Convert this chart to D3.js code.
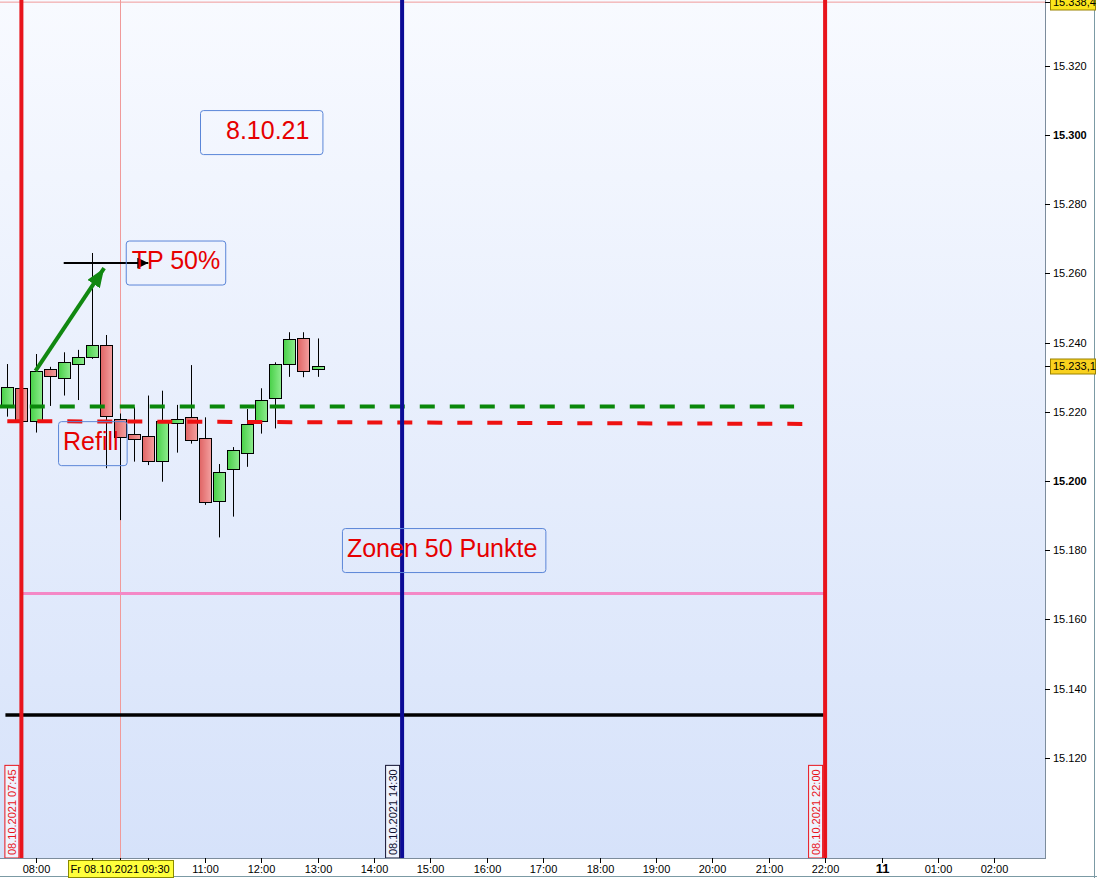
<!DOCTYPE html>
<html lang="de">
<head>
<meta charset="UTF-8">
<title>15 Min Chart 08.10.2021</title>
<style>
  body { margin: 0; background: #fff; }
  svg { display: block; font-family: Arial, "Liberation Sans", sans-serif; }
  .axis-label { font-size: 11px; fill: #000; }
  .note { font-size: 25px; fill: #e60000; }
  .vlabel { font-size: 11px; }
</style>
</head>
<body>
<div id="chart"></div>
<script src="https://cdn.jsdelivr.net/npm/d3@7"></script>
<script>
// 15 minute candles
const candleTimes = ["07:30", "07:45", "08:00", "08:15", "08:30", "08:45", "09:00", "09:15", "09:30", "09:45", "10:00", "10:15",
                     "10:30", "10:45", "11:00", "11:15", "11:30", "11:45", "12:00", "12:15", "12:30", "12:45", "13:00"];
const openVals  = [15221.7, 15226.8, 15217.3, 15232.3, 15229.7, 15233.7, 15235.8, 15239.2, 15218.0, 15213.7, 15212.9, 15205.7,
                   15216.7, 15218.4, 15212.3, 15194.4, 15203.4, 15208.3, 15217.3, 15223.9, 15233.7, 15241.2, 15232.3];
const highVals  = [15233.8, 15227.5, 15236.7, 15233.0, 15237.2, 15237.9, 15265.9, 15242.2, 15219.5, 15221.3, 15224.7, 15226.1,
                   15222.0, 15233.5, 15218.4, 15204.9, 15209.8, 15220.8, 15226.8, 15234.3, 15243.0, 15243.0, 15241.2];
const lowVals   = [15218.6, 15216.0, 15214.0, 15221.7, 15224.7, 15223.4, 15235.3, 15203.7, 15188.7, 15205.6, 15204.6, 15199.8,
                   15208.2, 15210.8, 15193.1, 15183.7, 15189.7, 15204.1, 15213.7, 15215.2, 15230.1, 15230.0, 15230.1];
const closeVals = [15227.3, 15217.3, 15231.8, 15230.3, 15234.3, 15235.8, 15239.2, 15218.6, 15212.9, 15212.3, 15205.7, 15217.3,
                   15217.8, 15211.8, 15193.8, 15202.7, 15208.9, 15216.6, 15223.3, 15233.7, 15241.0, 15231.7, 15233.1];

// axes
const yTickValues = [15120, 15140, 15160, 15180, 15200, 15220, 15240, 15260, 15280, 15300, 15320];
const yBoldTicks = [15200, 15300];
const xTickHours = [8, 9, 10, 11, 12, 13, 14, 15, 16, 17, 18, 19, 20, 21, 22, 23, 24, 25];
const xTickLabels = ["08:00", "09:00", "10:00", "11:00", "12:00", "13:00", "14:00", "15:00", "16:00", "17:00",
                     "18:00", "19:00", "20:00", "21:00", "22:00", "11", "01:00", "02:00"];
const lastPrice = 15233.1;
const crossPrice = 15338.4;
const crossTime = "09:30";
const crossLabel = "Fr 08.10.2021 09:30";

// drawings
const vLineTimes = ["07:45", "14:30", "22:00"];
const vLineLabels = ["08.10.2021 07:45", "08.10.2021 14:30", "08.10.2021 22:00"];

const greenLevel = { from: "07:22", to: "21:27", p1: 15221.5, p2: 15221.5 };
const refillLevel = { from: "07:30", to: "21:36", p1: 15217.3, p2: 15216.5 };
const zoneLevel = { from: "07:45", to: "22:00", p1: 15167.5, p2: 15167.5 };
const baseLevel = { from: "07:28", to: "22:00", p1: 15132.4, p2: 15132.4 };

const greenArrow = { from: "08:00", to: "09:13", p1: 15231.8, p2: 15261.5 };
const tpArrow = { from: "08:30", to: "10:00", p1: 15263.0, p2: 15263.0 };

const noteTexts = ["8.10.21", "TP 50%", "Refill", "Zonen 50 Punkte"];
const noteTimes = ["10:55", "09:36", "08:24", "13:26"];
const notePrices = [15307.2, 15269.5, 15217.3, 15186.4];

// ---- layout / style ----
const W = 1097, H = 878;
const plotW = 1045, plotH = 858;
const notePad = [[26, 13], [6, 5], [5, 8], [5, 8]];
const vLineColors = ["#e8141c", "#0b0b96", "#e8141c"];
const vLabelColors = ["#e8141c", "#101030", "#e8141c"];

const toHours = s => { const [h, m] = s.split(":").map(Number); return h + m / 60; };

const de = d3.formatLocale({ decimal: ",", thousands: ".", grouping: [3], currency: ["", "€"] });
const fmtInt = de.format(",.0f");
const fmtDec = de.format(",.1f");

const pxPerHour = 56.4;
const x = d3.scaleLinear()
    .domain([8 - 35.5 / pxPerHour, 8 + (plotW - 35.5) / pxPerHour])
    .range([0, plotW]);
const y = d3.scaleLinear()
    .domain([15300 - (plotH - 135) / 3.46, 15300 + 135 / 3.46])
    .range([plotH, 0]);

const svg = d3.select("#chart").append("svg")
    .attr("width", W)
    .attr("height", H);

const defs = svg.append("defs");
const bg = defs.append("linearGradient").attr("id", "bg")
    .attr("x1", 0).attr("y1", 0).attr("x2", 0).attr("y2", 1);
bg.append("stop").attr("offset", "0%").attr("stop-color", "#f8faff");
bg.append("stop").attr("offset", "100%").attr("stop-color", "#d6e2fa");

const gGreen = defs.append("linearGradient").attr("id", "gGreen");
gGreen.append("stop").attr("offset", "0%").attr("stop-color", "#48d048");
gGreen.append("stop").attr("offset", "100%").attr("stop-color", "#8eec8e");
const gRed = defs.append("linearGradient").attr("id", "gRed");
gRed.append("stop").attr("offset", "0%").attr("stop-color", "#e06464");
gRed.append("stop").attr("offset", "100%").attr("stop-color", "#f3a0a0");

defs.append("marker").attr("id", "headGreen")
    .attr("markerUnits", "userSpaceOnUse")
    .attr("markerWidth", 20).attr("markerHeight", 16)
    .attr("refX", 19).attr("refY", 7.5)
    .attr("orient", "auto")
    .append("path").attr("d", "M0,0L19,7.5L0,15Z").attr("fill", "#118811");
defs.append("marker").attr("id", "headBlack")
    .attr("markerUnits", "userSpaceOnUse")
    .attr("markerWidth", 12).attr("markerHeight", 12)
    .attr("refX", 11).attr("refY", 5.5)
    .attr("orient", "auto")
    .append("path").attr("d", "M0,0L11,5.5L0,11Z").attr("fill", "#000");

svg.append("rect").attr("width", W).attr("height", H).attr("fill", "#fff");
svg.append("rect").attr("width", plotW).attr("height", plotH).attr("fill", "url(#bg)");

// crosshair
svg.append("line")
    .attr("x1", 0).attr("x2", plotW)
    .attr("y1", y(crossPrice)).attr("y2", y(crossPrice))
    .attr("stroke", "#f09a9a").attr("stroke-width", 1);
svg.append("line")
    .attr("x1", Math.round(x(toHours(crossTime))) + 0.5).attr("x2", Math.round(x(toHours(crossTime))) + 0.5)
    .attr("y1", 0).attr("y2", plotH)
    .attr("stroke", "#f09a9a").attr("stroke-width", 1);

// candles
const candles = candleTimes.map((t, i) => ({
    t: toHours(t), o: openVals[i], h: highVals[i], l: lowVals[i], c: closeVals[i]
}));

const cg = svg.append("g").selectAll("g")
    .data(candles)
    .join("g");

cg.append("line")
    .attr("x1", d => Math.round(x(d.t)) + 0.5)
    .attr("x2", d => Math.round(x(d.t)) + 0.5)
    .attr("y1", d => y(d.h))
    .attr("y2", d => y(d.l))
    .attr("stroke", "#000");

cg.append("rect")
    .attr("x", d => Math.round(x(d.t)) - 6 + 0.5)
    .attr("width", 12)
    .attr("y", d => Math.round(y(Math.max(d.o, d.c))) + 0.5)
    .attr("height", d => Math.max(1, Math.round(Math.abs(y(d.o) - y(d.c)))))
    .attr("fill", d => d.c >= d.o ? "url(#gGreen)" : "url(#gRed)")
    .attr("stroke", "#000");

// levels
function level(l) {
    return svg.append("line")
        .attr("x1", x(toHours(l.from))).attr("x2", x(toHours(l.to)))
        .attr("y1", y(l.p1)).attr("y2", y(l.p2));
}
level(zoneLevel).attr("stroke", "#f488c6").attr("stroke-width", 3);
level(baseLevel).attr("stroke", "#000").attr("stroke-width", 3.5);
level(greenLevel).attr("stroke", "#0a870a").attr("stroke-width", 4).attr("stroke-dasharray", "15,15");
level(refillLevel).attr("stroke", "#ee1111").attr("stroke-width", 4).attr("stroke-dasharray", "15,15");

// vertical lines with date labels
vLineTimes.forEach((t, i) => {
    const vx = x(toHours(t));
    svg.append("line")
        .attr("x1", vx).attr("x2", vx)
        .attr("y1", 0).attr("y2", plotH)
        .attr("stroke", vLineColors[i]).attr("stroke-width", 4);

    const lab = svg.append("g");
    const box = lab.append("rect");
    const txt = lab.append("text")
        .attr("class", "vlabel")
        .attr("transform", `translate(${vx - 5},${plotH - 3}) rotate(-90)`)
        .attr("fill", vLabelColors[i])
        .text(vLineLabels[i]);
    const len = txt.node().getComputedTextLength();
    box.attr("x", vx - 16.5).attr("y", plotH - len - 7)
        .attr("width", 14).attr("height", len + 7)
        .attr("fill", "#eef3fd")
        .attr("stroke", vLabelColors[i]).attr("stroke-width", 1);
});

// arrows
function arrow(a, color, width, marker) {
    svg.append("line")
        .attr("x1", x(toHours(a.from))).attr("y1", y(a.p1))
        .attr("x2", x(toHours(a.to))).attr("y2", y(a.p2))
        .attr("stroke", color).attr("stroke-width", width)
        .attr("marker-end", `url(#${marker})`);
}
arrow(greenArrow, "#118811", 4, "headGreen");
arrow(tpArrow, "#000", 2, "headBlack");

// notes
noteTexts.forEach((t, i) => {
    const nx = x(toHours(noteTimes[i]));
    const ny = y(notePrices[i]);
    const g = svg.append("g");
    const box = g.append("rect");
    const txt = g.append("text")
        .attr("class", "note")
        .attr("x", nx + notePad[i][0])
        .attr("y", ny + 28.5)
        .text(t);
    const len = txt.node().getComputedTextLength();
    box.attr("x", nx + 0.5).attr("y", ny + 0.5)
        .attr("width", len + notePad[i][0] + notePad[i][1])
        .attr("height", 44)
        .attr("rx", 3)
        .attr("fill", "none")
        .attr("stroke", "#5b86d8");
});

// frame
svg.append("line").attr("x1", plotW + 0.5).attr("x2", plotW + 0.5).attr("y1", 0).attr("y2", plotH + 1)
    .attr("stroke", "#7c8c9c");
svg.append("line").attr("x1", 0).attr("x2", plotW + 1).attr("y1", plotH + 0.5).attr("y2", plotH + 0.5)
    .attr("stroke", "#7c8c9c");
svg.append("line").attr("x1", 0).attr("x2", W).attr("y1", H - 1.5).attr("y2", H - 1.5)
    .attr("stroke", "#7b9aa4");
svg.append("line").attr("x1", W - 2.5).attr("x2", W - 2.5).attr("y1", 0).attr("y2", H)
    .attr("stroke", "#7b9aa4");

// y axis
const yAxis = svg.append("g").selectAll("g")
    .data(yTickValues)
    .join("g")
    .attr("transform", d => `translate(${plotW},${Math.round(y(d)) + 0.5})`);
yAxis.append("line").attr("x1", 0).attr("x2", 5).attr("stroke", "#000");
yAxis.append("text")
    .attr("class", "axis-label")
    .attr("x", 8)
    .attr("dy", "0.35em")
    .style("font-weight", d => yBoldTicks.includes(d) ? "bold" : "normal")
    .text(d => fmtInt(d));

// crosshair time label position (hides the tick labels it covers)
const cx = x(toHours(crossTime));
const probe = svg.append("text").attr("class", "axis-label").text(crossLabel);
const clLen = probe.node().getComputedTextLength();
probe.remove();
const clLeft = Math.round(cx - clLen / 2 - 3), clRight = clLeft + Math.round(clLen + 6);

// x axis
const xAxis = svg.append("g").selectAll("g")
    .data(xTickHours)
    .join("g")
    .attr("transform", d => `translate(${Math.round(x(d)) + 0.5},${plotH})`);
xAxis.append("line").attr("y1", 0).attr("y2", 5).attr("stroke", "#000");
xAxis.filter(d => x(d) + 16 < clLeft || x(d) - 16 > clRight)
    .append("text")
    .attr("class", "axis-label")
    .attr("y", 15)
    .attr("text-anchor", "middle")
    .style("font-weight", d => xTickLabels[xTickHours.indexOf(d)].includes(":") ? "normal" : "bold")
    .style("font-size", d => xTickLabels[xTickHours.indexOf(d)].includes(":") ? "11px" : "13px")
    .text(d => xTickLabels[xTickHours.indexOf(d)]);

// price labels on right axis
function priceTag(p, fill, cy) {
    const g = svg.append("g").attr("transform", `translate(${plotW},${cy})`);
    g.append("line").attr("x1", 0).attr("x2", 5).attr("stroke", "#000");
    g.append("rect").attr("x", 5.5).attr("y", -7.5).attr("width", 45).attr("height", 15)
        .attr("fill", fill).attr("stroke", "#9a8200");
    g.append("text").attr("class", "axis-label").attr("x", 8).attr("dy", "0.35em").text(fmtDec(p));
}
priceTag(lastPrice, "#f9d11e", Math.round(y(lastPrice)) + 0.5);
priceTag(crossPrice, "#fbe51c", Math.round(y(crossPrice)) + 0.5);

// crosshair time label
svg.append("line").attr("x1", Math.round(cx) + 0.5).attr("x2", Math.round(cx) + 0.5)
    .attr("y1", plotH).attr("y2", plotH + 6).attr("stroke", "#000");
svg.append("rect").attr("x", clLeft + 0.5).attr("y", plotH + 2.5)
    .attr("width", clRight - clLeft).attr("height", 17)
    .attr("fill", "#ffff3c").attr("stroke", "#8a8a00");
svg.append("text").attr("class", "axis-label")
    .attr("x", cx).attr("y", plotH + 15).attr("text-anchor", "middle")
    .text(crossLabel);
</script>
</body>
</html>
